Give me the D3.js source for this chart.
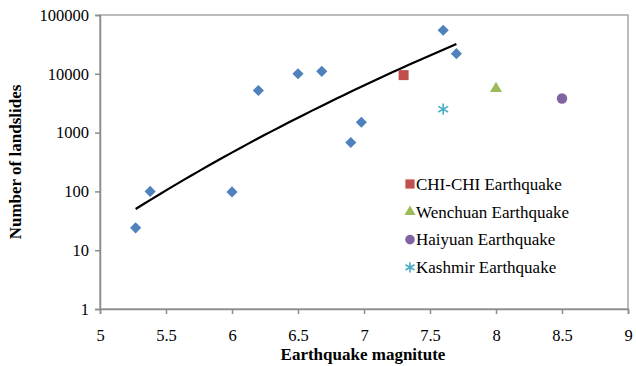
<!DOCTYPE html>
<html>
<head>
<meta charset="utf-8">
<script src="https://cdn.jsdelivr.net/npm/d3@7"></script>
</head>
<body style="margin:0;background:#fff">
<svg id="chart" width="636" height="366"></svg>
<script>
// blue diamonds: other earthquakes (fitted with a power trendline)
var otherMag = [5.27, 5.38, 6.0, 6.2, 6.5, 6.68, 6.9, 6.98, 7.6, 7.7];
var otherCount = [24, 100, 98, 5200, 10000, 11000, 680, 1500, 55000, 22000];

// named earthquakes
var namedQuakes = ["CHI-CHI Earthquake", "Wenchuan Earthquake", "Haiyuan Earthquake", "Kashmir Earthquake"];
var namedMag = [7.3, 8.0, 8.5, 7.6];
var namedCount = [9500, 5600, 3800, 2500];
var namedSymbols = [d3.symbolSquare, d3.symbolTriangle, d3.symbolCircle, d3.symbolAsterisk];
var namedColors = ["#C0504D", "#9BBB59", "#8064A2", "#4BACC6"];

var xTicks = [5, 5.5, 6, 6.5, 7, 7.5, 8, 8.5, 9];
var yTicks = [1, 10, 100, 1000, 10000, 100000];

var FONT = "'Liberation Serif', 'Times New Roman', serif";

var svg = d3.select("#chart");
var margin = { top: 15, right: 8, bottom: 57, left: 100 };
var width = 636 - margin.left - margin.right;
var height = 366 - margin.top - margin.bottom;

var x = d3.scaleLinear().domain([5, 9]).range([0, width]);
var y = d3.scaleLog().domain([1, 100000]).range([height, 0]);

var g = svg.append("g").attr("transform", `translate(${margin.left},${margin.top})`);

// plot frame
g.append("rect")
    .attr("x", 0).attr("y", 0)
    .attr("width", width).attr("height", height)
    .attr("fill", "none")
    .attr("stroke", "#a6a6a6")
    .attr("stroke-width", 1.5);

var xAxis = g.append("g")
    .attr("transform", `translate(0,${height})`)
    .call(d3.axisBottom(x).tickValues(xTicks).tickSize(5).tickPadding(15).tickFormat(d3.format("")));

var yAxis = g.append("g")
    .call(d3.axisLeft(y).tickValues(yTicks).tickSize(5).tickPadding(6).tickFormat(d3.format("d")));

[xAxis, yAxis].forEach(function (ax) {
    ax.attr("font-family", FONT).attr("font-size", 16);
    ax.select(".domain").attr("stroke", "#8c8c8c").attr("stroke-width", 1.5);
    ax.selectAll(".tick line").attr("stroke", "#8c8c8c").attr("stroke-width", 1.5);
    ax.selectAll(".tick text")
        .attr("fill", "#000")
        .style("font-family", FONT)
        .style("font-size", "16.5px");
});

// power trendline fitted on the blue series (log-log regression)
var lx = otherMag.map(Math.log10);
var ly = otherCount.map(Math.log10);
var mx = d3.mean(lx), my = d3.mean(ly);
var b = d3.sum(lx, (d, i) => (d - mx) * (ly[i] - my)) / d3.sum(lx, d => (d - mx) * (d - mx));
var a = my - b * mx;
var xr = d3.extent(otherMag);
var trend = d3.range(0, 41).map(function (i) {
    var m = xr[0] + (xr[1] - xr[0]) * i / 40;
    return [m, Math.pow(10, a + b * Math.log10(m))];
});

g.append("path")
    .datum(trend)
    .attr("fill", "none")
    .attr("stroke", "#000")
    .attr("stroke-width", 2.2)
    .attr("d", d3.line().x(d => x(d[0])).y(d => y(d[1])));

// blue diamonds
g.selectAll(".other")
    .data(otherMag)
    .enter()
    .append("path")
    .attr("class", "other")
    .attr("transform", (d, i) => `translate(${x(d)},${y(otherCount[i])}) rotate(45)`)
    .attr("d", d3.symbol().type(d3.symbolSquare).size(62))
    .attr("fill", "#4F81BD");

// named quakes
var symSize = [100, 62, 85, 90];
function drawSymbol(sel, i, size) {
    var isStar = namedSymbols[i] === d3.symbolAsterisk;
    sel.attr("d", d3.symbol().type(namedSymbols[i]).size(size))
        .attr("fill", isStar ? "none" : namedColors[i])
        .attr("stroke", isStar ? namedColors[i] : "none")
        .attr("stroke-width", isStar ? 1.6 : 0);
}

namedMag.forEach(function (m, i) {
    g.append("path")
        .attr("transform", `translate(${x(m)},${y(namedCount[i])})`)
        .call(drawSymbol, i, symSize[i]);
});

// legend
var legend = g.append("g").attr("transform", "translate(310,169)");
namedQuakes.forEach(function (name, i) {
    var row = legend.append("g").attr("transform", `translate(0,${i * 27.8})`);
    row.append("path").call(drawSymbol, i, symSize[i] * 0.85);
    row.append("text")
        .attr("x", 6)
        .attr("y", 5.8)
        .style("font-family", FONT)
        .style("font-size", "17px")
        .attr("fill", "#000")
        .text(name);
});

// axis titles
svg.append("text")
    .attr("x", 363)
    .attr("y", 360)
    .attr("text-anchor", "middle")
    .style("font-family", FONT)
    .style("font-size", "17px")
    .style("font-weight", "bold")
    .text("Earthquake magnitute");

svg.append("text")
    .attr("transform", "translate(21,162) rotate(-90)")
    .attr("text-anchor", "middle")
    .style("font-family", FONT)
    .style("font-size", "17px")
    .style("font-weight", "bold")
    .text("Number of landslides");
</script>
</body>
</html>
